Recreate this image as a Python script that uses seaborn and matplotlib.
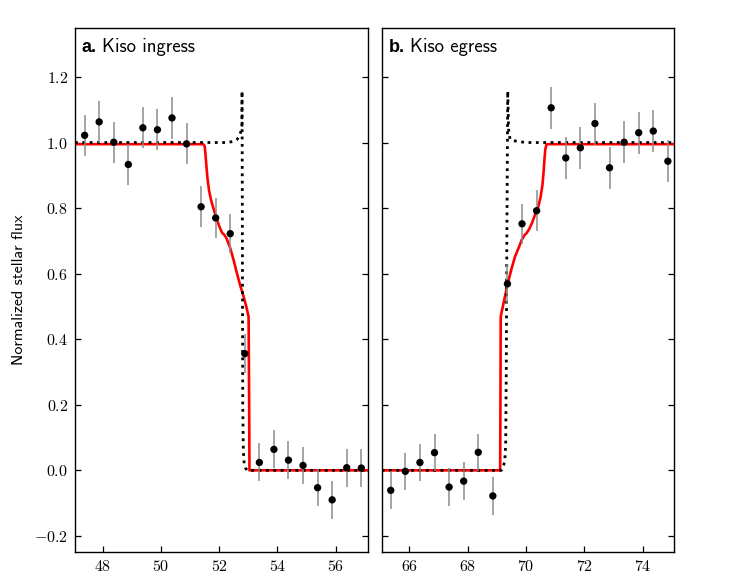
import numpy as np
import pandas as pd
import matplotlib
matplotlib.use("Agg")
import matplotlib.pyplot as plt
import seaborn as sns

# ---------------- data ----------------
# Panel a: Kiso ingress
ing_time = [47.38, 47.88, 48.38, 48.88, 49.38, 49.88, 50.38, 50.88, 51.38, 51.88,
            52.38, 52.88, 53.38, 53.88, 54.38, 54.88, 55.38, 55.88, 56.38, 56.88]
ing_flux = [1.022, 1.063, 1.001, 0.933, 1.045, 1.039, 1.075, 0.996, 0.804, 0.770,
            0.722, 0.356, 0.024, 0.064, 0.031, 0.015, -0.053, -0.090, 0.008, 0.007]
ing_err = [0.063, 0.063, 0.063, 0.063, 0.063, 0.063, 0.063, 0.063, 0.062, 0.061,
           0.060, 0.059, 0.058, 0.058, 0.057, 0.057, 0.056, 0.057, 0.058, 0.058]

ing_model_t = [47.05, 51.45, 51.50, 51.53, 51.56, 51.60, 51.65, 51.72, 51.80, 51.90,
               52.00, 52.10, 52.18, 52.25, 52.38, 52.50, 52.61, 52.72, 52.84, 52.93,
               53.01, 53.03, 53.04, 57.10]
ing_model_f = [0.995, 0.995, 0.990, 0.965, 0.930, 0.890, 0.855, 0.825, 0.800, 0.772,
               0.745, 0.725, 0.718, 0.708, 0.678, 0.640, 0.601, 0.565, 0.530, 0.500,
               0.469, 0.200, 0.000, 0.000]

ing_ring_t = [47.05, 52.30, 52.50, 52.62, 52.70, 52.75, 52.78, 52.785, 52.79, 52.80,
              52.81, 52.83, 52.86, 52.90, 52.96, 57.10]
ing_ring_f = [1.000, 1.000, 1.004, 1.010, 1.020, 1.035, 1.050, 1.157, 1.000, 0.600,
              0.200, 0.060, 0.020, 0.008, 0.000, 0.000]

# Panel b: Kiso egress
egr_time = [65.36, 65.86, 66.36, 66.86, 67.36, 67.86, 68.36, 68.86, 69.36, 69.86,
            70.36, 70.86, 71.36, 71.86, 72.36, 72.86, 73.36, 73.86, 74.36, 74.86]
egr_flux = [-0.061, -0.003, 0.024, 0.054, -0.051, -0.033, 0.055, -0.078, 0.569, 0.752,
            0.792, 1.106, 0.953, 0.984, 1.058, 0.923, 1.001, 1.030, 1.035, 0.943]
egr_err = [0.058, 0.057, 0.057, 0.057, 0.057, 0.057, 0.057, 0.058, 0.060, 0.061,
           0.062, 0.064, 0.064, 0.064, 0.064, 0.064, 0.064, 0.064, 0.064, 0.064]

egr_model_t = [65.05, 69.11, 69.12, 69.13, 69.25, 69.37, 69.50, 69.62, 69.75, 69.85,
               69.95, 70.02, 70.10, 70.20, 70.30, 70.42, 70.50, 70.56, 70.60, 70.63,
               70.66, 70.70, 75.07]
egr_model_f = [0.000, 0.000, 0.200, 0.469, 0.520, 0.569, 0.615, 0.652, 0.680, 0.703,
               0.718, 0.724, 0.735, 0.754, 0.778, 0.805, 0.835, 0.870, 0.910, 0.950,
               0.980, 0.995, 0.995]

egr_ring_t = [65.05, 69.15, 69.22, 69.27, 69.30, 69.32, 69.34, 69.36, 69.37, 69.40,
              69.45, 69.55, 69.75, 70.00, 75.07]
egr_ring_f = [0.000, 0.000, 0.012, 0.030, 0.080, 0.300, 0.700, 1.000, 1.157, 1.040,
              1.010, 1.006, 1.003, 1.000, 1.000]

ytick_vals = [-0.2, 0.0, 0.2, 0.4, 0.6, 0.8, 1.0, 1.2]
ing_xticks = [48, 50, 52, 54, 56]
egr_xticks = [66, 68, 70, 72, 74]

# ---------------- style ----------------
sns.set_style("ticks", {"axes.edgecolor": "black", "xtick.color": "black",
                        "ytick.color": "black", "text.color": "black",
                        "axes.labelcolor": "black"})
plt.rcParams["mathtext.fontset"] = "cm"
plt.rcParams["font.family"] = ["cmss10", "DejaVu Sans"]
plt.rcParams["axes.unicode_minus"] = True

fig = plt.figure(figsize=(7.45, 5.73), dpi=100)
axL = fig.add_axes([75 / 745, 1 - 552.3 / 573, 292.7 / 745, 524.5 / 573])
axR = fig.add_axes([381.7 / 745, 1 - 552.3 / 573, 292.3 / 745, 524.5 / 573])


def panel(ax, t, f, e, mt, mf, rt, rf, xlim, xticks, letter, label, show_y):
    sns.lineplot(x=mt, y=mf, ax=ax, sort=False, estimator=None, color="#ff0000",
                 linewidth=1.9, zorder=2)
    sns.lineplot(x=rt, y=rf, ax=ax, sort=False, estimator=None, color="black",
                 linewidth=2.0, linestyle=":", zorder=3)
    ax.errorbar(t, f, yerr=e, fmt="none", ecolor="#8c8c8c", elinewidth=1.1,
                capsize=0, zorder=4)
    sns.scatterplot(x=t, y=f, ax=ax, color="black", s=28, edgecolor="none",
                    zorder=5)
    ax.set_xlim(*xlim)
    ax.set_ylim(-0.25, 1.35)
    ax.set_xticks(xticks)
    ax.set_yticks(ytick_vals)
    ax.xaxis.set_major_formatter(plt.FuncFormatter(lambda v, p: f"${v:.0f}$"))
    ax.yaxis.set_major_formatter(plt.FuncFormatter(lambda v, p: f"${v:.1f}$"))
    ax.tick_params(direction="in", length=4, width=0.9, labelsize=11.5,
                   top=False, right=True, pad=5, colors="black")
    if not show_y:
        ax.tick_params(labelleft=False)
    for sp in ax.spines.values():
        sp.set_linewidth(1.0)
        sp.set_color("black")
        sp.set_visible(True)
    t1 = ax.text(0.023, 0.954, letter, transform=ax.transAxes, fontsize=13,
                 fontweight="bold", family="Liberation Sans", va="baseline",
                 ha="left", color="black")
    ax.annotate(label, xy=(1, 0), xycoords=t1, xytext=(4, 0),
                textcoords="offset points", fontsize=13.5, va="bottom",
                ha="left", family="cmss10", color="black")
    ax.set_xlabel("")
    ax.set_ylabel("")


panel(axL, ing_time, ing_flux, ing_err, ing_model_t, ing_model_f, ing_ring_t,
      ing_ring_f, (47.05, 57.1), ing_xticks, "a.", "Kiso ingress", True)
panel(axR, egr_time, egr_flux, egr_err, egr_model_t, egr_model_f, egr_ring_t,
      egr_ring_f, (65.05, 75.07), egr_xticks, "b.", "Kiso egress", False)

axL.set_ylabel("Normalized stellar flux", fontsize=11.5, family="cmss10",
               color="black")
axL.yaxis.set_label_coords(-(75 - 26) / 292.7, 0.5)

fig.savefig("out.png", dpi=100)
